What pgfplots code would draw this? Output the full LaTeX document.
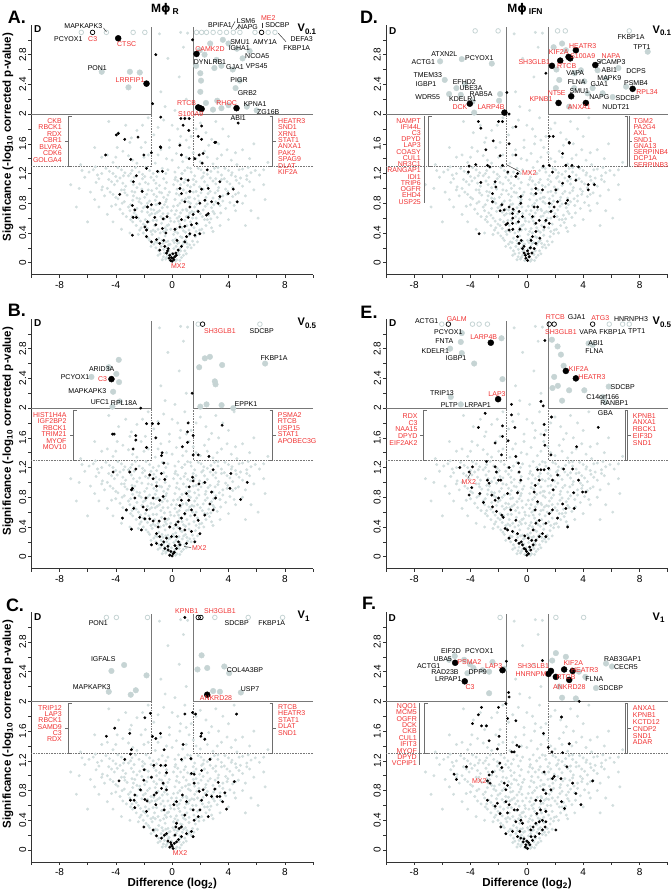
\documentclass[border=0pt]{standalone}
\usepackage{pgfplots}
\usepackage{pgfplotstable}
\pgfplotsset{compat=1.18}
\usepackage{fontspec}
\setmainfont{Liberation Sans}
\newfontfamily\dejavu{DejaVu Sans}
\definecolor{labred}{RGB}{240,50,50}
\definecolor{cloudc}{RGB}{210,222,222}
\definecolor{bigc}{RGB}{198,212,212}
\definecolor{thrc}{RGB}{120,120,120}
\definecolor{brc}{RGB}{110,110,110}

\pgfplotsset{
  volcano/.style={
    scale only axis, width=281.7pt, height=249.65pt,
    xmin=-10, xmax=10, ymin=-0.16, ymax=3.2,
    axis lines=left, axis line style={-, draw=black!80, line width=0.6pt},
    xtick={-8,-4,0,4,8}, minor xtick={-10,-6,-2,2,6,10},
    ytick={0,0.4,0.8,1.2,1.6,2,2.4,2.8}, minor ytick={0.2,0.6,1,1.4,1.8,2.2,2.6,3},
    tick align=outside, major tick length=3pt, minor tick length=3pt,
    every tick/.style={black!80, line width=0.6pt},
    yticklabel style={rotate=90, anchor=south, inner ysep=2pt, font=\fontsize{10}{12}\selectfont},
    xticklabel style={font=\fontsize{10}{12}\selectfont},
    /pgf/number format/assume math mode=true,
    clip=false,
  },
  cl/.style={only marks, mark=*, mark size=1.3pt, color=cloudc},
  bg/.style={only marks, mark=*, mark size=2.8pt, color=bigc},
  go/.style={only marks, mark=o, mark size=2.3pt, color=bigc, mark options={line width=0.8pt}},
  bs/.style={only marks, mark=*, mark size=1.25pt, color=black},
  bl/.style={only marks, mark=*, mark size=3pt, color=black},
  bo/.style={only marks, mark=o, mark size=2.3pt, color=black, mark options={line width=0.7pt}},
}

\newcommand\thr{%
 \draw[thrc, line width=0.7pt] (axis cs:-10,2) -- (axis cs:-1.45,2) -- (axis cs:-1.45,3.17);
 \draw[thrc, line width=0.7pt] (axis cs:10,2) -- (axis cs:1.5,2) -- (axis cs:1.5,3.17);
 \draw[thrc, densely dotted, line width=0.6pt] (axis cs:-10,1.3) -- (axis cs:-1.45,1.3) -- (axis cs:-1.45,2);
 \draw[thrc, densely dotted, line width=0.6pt] (axis cs:10,1.3) -- (axis cs:1.5,1.3) -- (axis cs:1.5,2);
}

\pgfplotstableread[row sep=\\]{
x y\\
-0.62 0.08\\-0.45 0.05\\-0.3 0.1\\-0.15 0.03\\0.02 0.06\\0.18 0.09\\0.33 0.04\\0.5 0.11\\0.66 0.07\\-0.55 0.13\\0.42 0.14\\-0.05 0.12\\
-1.15 0.2\\-0.95 0.16\\-0.78 0.22\\-0.6 0.18\\-0.38 0.2\\-0.22 0.17\\0.12 0.19\\0.28 0.22\\0.55 0.19\\0.72 0.24\\0.9 0.16\\1.1 0.21\\1.25 0.24\\-1.3 0.25\\
-1.85 0.36\\-1.6 0.3\\-1.42 0.38\\-1.18 0.28\\-0.95 0.33\\-0.72 0.3\\-0.5 0.36\\-0.3 0.29\\0.25 0.32\\0.48 0.27\\0.7 0.34\\0.95 0.3\\1.2 0.37\\1.45 0.29\\1.65 0.35\\1.9 0.39\\-2.05 0.4\\0.1 0.38\\
-2.55 0.5\\-2.3 0.44\\-2.05 0.52\\-1.75 0.46\\-1.5 0.42\\-1.25 0.5\\-1.0 0.45\\-0.75 0.53\\-0.5 0.47\\-0.25 0.51\\0.3 0.46\\0.55 0.52\\0.8 0.43\\1.05 0.5\\1.3 0.55\\1.55 0.47\\1.8 0.52\\2.1 0.45\\2.4 0.5\\2.65 0.54\\
-3.25 0.62\\-2.95 0.58\\-2.7 0.67\\-2.4 0.6\\-2.15 0.69\\-1.9 0.58\\-1.6 0.64\\-1.35 0.57\\-1.05 0.68\\-0.8 0.62\\-0.55 0.59\\-0.3 0.66\\0.35 0.6\\0.6 0.67\\0.9 0.57\\1.15 0.63\\1.4 0.69\\1.7 0.6\\2.0 0.66\\2.3 0.58\\2.6 0.64\\2.9 0.69\\3.2 0.61\\
-4.0 0.78\\-3.7 0.72\\-3.4 0.82\\-3.1 0.75\\-2.8 0.84\\-2.5 0.73\\-2.2 0.8\\-1.9 0.76\\-1.6 0.83\\-1.3 0.71\\-1.0 0.79\\-0.7 0.74\\-0.45 0.82\\0.4 0.77\\0.7 0.84\\1.0 0.72\\1.3 0.8\\1.6 0.75\\1.9 0.83\\2.2 0.71\\2.5 0.79\\2.8 0.74\\3.1 0.82\\3.4 0.77\\3.8 0.73\\4.1 0.81\\
-4.8 0.9\\-4.4 0.95\\-4.0 0.88\\-3.6 0.98\\-3.2 0.91\\-2.85 0.96\\-2.5 0.87\\-2.15 0.99\\-1.8 0.92\\-1.45 0.97\\-1.1 0.89\\-0.75 0.94\\-0.5 1.0\\0.5 0.91\\0.8 0.98\\1.15 0.88\\1.5 0.95\\1.85 0.9\\2.2 0.99\\2.55 0.93\\2.9 0.87\\3.25 0.97\\3.6 0.9\\3.95 0.96\\4.3 0.89\\4.7 0.94\\
-5.4 1.08\\-4.95 1.02\\-4.5 1.12\\-4.1 1.05\\-3.7 1.14\\-3.3 1.03\\-2.9 1.1\\-2.5 1.01\\-2.1 1.13\\-1.7 1.06\\-1.3 1.11\\-0.9 1.04\\-0.6 1.13\\0.6 1.05\\0.95 1.12\\1.3 1.02\\1.7 1.09\\2.1 1.14\\2.5 1.04\\2.9 1.1\\3.3 1.01\\3.7 1.13\\4.1 1.06\\4.55 1.11\\5.0 1.03\\5.5 1.09\\
-5.9 1.22\\-5.3 1.18\\-4.7 1.27\\-4.2 1.2\\-3.6 1.25\\-3.1 1.17\\-2.6 1.28\\-2.1 1.19\\-1.6 1.24\\-1.1 1.16\\-0.7 1.27\\0.7 1.2\\1.1 1.28\\1.6 1.17\\2.05 1.25\\2.5 1.19\\3.0 1.27\\3.5 1.18\\4.0 1.24\\4.5 1.16\\5.0 1.26\\5.6 1.21\\6.2 1.18\\
-5.0 1.42\\-4.2 1.35\\-3.5 1.5\\-2.8 1.38\\-2.2 1.55\\-1.7 1.45\\-1.2 1.34\\-0.8 1.52\\-0.4 1.4\\0.3 1.47\\0.75 1.36\\1.2 1.55\\1.7 1.4\\2.3 1.5\\2.9 1.33\\3.5 1.45\\4.2 1.38\\5.0 1.52\\-6.5 1.32\\6.8 1.35\\
-3.8 1.75\\-2.9 1.68\\-2.1 1.85\\-1.3 1.72\\-0.6 1.92\\-0.2 1.65\\0.4 1.8\\0.9 1.95\\1.35 1.7\\2.0 1.88\\2.8 1.66\\3.6 1.8\\-4.5 1.9\\4.4 1.95\\
-0.15 0.25\\0.05 0.3\\-0.1 0.45\\0.15 0.55\\-0.05 0.7\\0.2 0.85\\-0.2 0.95\\0.1 1.05\\-0.35 0.5\\0.4 0.4\\-0.4 0.85\\0.3 0.7\\
-1.2 0.42\\1.0 0.62\\-1.5 0.72\\1.25 0.88\\-0.9 0.95\\0.7 1.2\\-0.3 1.25\\0.25 1.15\\
-0.8 2.3\\0.5 2.5\\-0.3 2.75\\1.0 2.2\\0.8 2.9\\-0.9 3.08\\0.6 3.1\\1.1 3.09\\-0.5 2.1\\0.2 2.05\\
-7.2 1.05\\6.1 0.6\\-6.8 0.75\\6.6 0.85\\-6.0 0.55\\5.6 0.7\\-5.5 0.85\\5.2 0.5\\
-0.85 0.12\\0.8 0.1\\-0.4 0.07\\0.25 0.02\\
-1.05 0.27\\-0.65 0.26\\-0.25 0.24\\0.38 0.26\\0.82 0.28\\1.35 0.2\\
-2.2 0.47\\-1.65 0.55\\-1.1 0.57\\-0.6 0.42\\-0.15 0.6\\0.45 0.56\\0.95 0.41\\1.45 0.6\\1.95 0.44\\2.5 0.58\\
-3.0 0.7\\-2.55 0.64\\-2.05 0.74\\-1.45 0.66\\-0.9 0.7\\-0.35 0.75\\0.2 0.65\\0.75 0.71\\1.25 0.67\\1.8 0.7\\2.35 0.76\\3.0 0.66\\
-3.85 0.86\\-3.35 0.94\\-2.75 0.9\\-2.3 0.86\\-1.7 0.98\\-1.2 0.84\\-0.6 0.88\\0.3 0.93\\0.95 0.86\\1.6 0.86\\2.05 0.94\\2.7 0.96\\3.35 0.86\\3.9 0.92\\
-4.6 1.0\\-3.9 1.1\\-3.45 1.17\\-2.7 1.15\\-2.3 1.06\\-1.5 1.15\\-1.1 1.0\\-0.4 1.08\\0.4 1.1\\1.1 1.04\\1.5 1.12\\1.95 1.02\\2.7 1.14\\3.1 1.06\\3.5 1.12\\4.3 1.01\\4.85 1.14\\
-5.6 1.25\\-5.0 1.2\\-4.45 1.23\\-3.85 1.28\\-3.35 1.21\\-2.85 1.24\\-2.35 1.22\\-1.85 1.28\\-1.35 1.2\\-0.45 1.2\\0.45 1.28\\0.9 1.24\\1.35 1.22\\1.85 1.27\\2.25 1.21\\2.75 1.23\\3.25 1.22\\3.75 1.27\\4.25 1.21\\4.75 1.25\\5.3 1.17\\5.9 1.24\\
-6.2 1.15\\-6.6 1.0\\6.5 1.05\\-5.8 0.95\\5.8 0.98\\-5.2 0.75\\5.0 0.8\\-4.6 0.65\\4.5 0.7\\-4.2 0.55\\4.0 0.58\\-3.6 0.45\\3.4 0.5\\-3.0 0.4\\2.9 0.42\\
-4.6 1.45\\-3.9 1.55\\-3.1 1.44\\-2.5 1.34\\-1.9 1.62\\-1.0 1.45\\-0.2 1.55\\0.55 1.6\\1.0 1.42\\1.5 1.48\\2.0 1.36\\2.6 1.58\\3.2 1.4\\3.9 1.52\\4.6 1.32\\5.5 1.4\\
-3.3 1.85\\-2.5 1.78\\-1.7 1.95\\-1.0 1.82\\0.0 1.85\\0.6 1.7\\1.7 1.8\\2.4 1.75\\3.1 1.9\\4.0 1.7\\
-0.7 0.04\\0.55 0.03\\-0.28 0.15\\0.6 0.16\\-1.0 0.1\\1.0 0.12\\
-1.5 0.22\\-0.45 0.28\\0.15 0.27\\0.6 0.35\\1.05 0.26\\1.55 0.24\\-1.7 0.33\\1.8 0.28\\
-2.4 0.38\\-1.9 0.5\\-1.35 0.44\\-0.85 0.4\\-0.4 0.44\\0.2 0.42\\0.7 0.47\\1.2 0.44\\1.7 0.42\\2.25 0.4\\2.8 0.47\\-2.8 0.55\\
-3.5 0.66\\-2.85 0.62\\-2.25 0.56\\-1.75 0.68\\-1.2 0.66\\-0.65 0.66\\-0.1 0.56\\0.5 0.62\\1.05 0.7\\1.55 0.68\\2.15 0.62\\2.75 0.59\\3.45 0.67\\
-4.3 0.76\\-3.55 0.8\\-2.95 0.78\\-2.35 0.82\\-1.75 0.8\\-1.15 0.78\\-0.55 0.78\\0.1 0.76\\0.55 0.8\\1.15 0.82\\1.75 0.79\\2.35 0.84\\2.95 0.78\\3.6 0.83\\4.4 0.77\\
-5.0 0.98\\-4.2 0.92\\-3.4 0.98\\-2.65 0.95\\-1.95 0.88\\-1.3 0.92\\-0.3 0.91\\0.35 0.99\\1.0 0.94\\1.7 0.96\\2.4 0.88\\3.05 0.94\\3.8 0.99\\4.5 0.92\\5.2 0.9\\
-5.2 1.13\\-4.3 1.09\\-3.5 1.07\\-2.75 1.05\\-1.9 1.08\\-1.15 1.07\\0.2 1.12\\0.85 1.08\\1.55 1.05\\2.3 1.09\\3.1 1.13\\3.9 1.09\\4.75 1.07\\5.3 1.12\\
-6.4 1.24\\-5.45 1.29\\-4.0 1.16\\-2.95 1.2\\-1.95 1.16\\-0.95 1.22\\0.2 1.22\\1.3 1.27\\2.2 1.16\\3.25 1.28\\4.2 1.18\\5.4 1.28\\6.5 1.25\\
-4.0 1.42\\-2.0 1.42\\0.0 1.38\\2.5 1.42\\4.5 1.48\\-5.5 1.55\\5.8 1.6\\-3.0 1.62\\1.0 1.65\\3.3 1.6\\
}\cloud

\begin{document}
\begin{tikzpicture}
\useasboundingbox (0,0) rectangle (672pt,892pt);

%%%%%%%%%%%%%%%% A
\begin{axis}[volcano, at={(31.3pt,617.4pt)}, anchor=south west]
\thr
\addplot[cl] table {\cloud};
\addplot[go] coordinates {(-6.45,3.1)(-4.67,3.1)(-2.77,3.1)(-1.94,3.1)(1.73,3.1)(2.09,3.1)(2.44,3.1)(2.91,3.1)(3.39,3.1)(3.86,3.1)(4.34,3.1)(4.81,3.1)(5.88,3.1)(6.82,3.1)(7.3,3.1)};
\addplot[bg] coordinates {(-5.0,2.57)(-3.0,2.57)(-2.3,2.56)(-3.1,2.36)(1.97,2.86)(2.3,2.8)(3.15,2.73)(4.0,2.95)(4.6,2.88)(5.0,2.75)(5.5,2.85)(2.0,2.55)(2.05,2.45)(3.0,2.62)(3.5,2.65)(4.3,2.6)(4.5,2.35)(2.0,2.3)(2.4,2.15)(3.2,2.18)(4.0,2.12)(5.3,2.1)(6.0,2.05)(2.9,2.06)(3.5,2.08)(1.7,2.65)(4.8,2.45)(2.7,2.95)(3.6,3.0)};
\addplot[bs] coordinates {(-4.72,1.45)(-2.94,1.39)(-2.01,1.45)(-1.47,1.48)(-0.81,1.55)(-1.82,1.27)(-2.54,1.17)(-2.75,1.09)(-1.04,1.23)(-0.69,1.23)(-3.72,0.92)(-2.13,0.96)(-2.82,0.77)(-2.65,0.71)(-2.77,0.61)(-2.54,0.61)(-1.75,0.75)(-1.47,0.78)(-0.88,0.80)(-1.75,0.55)(-1.94,0.48)(-1.82,0.44)(-1.23,0.61)(-0.64,0.59)(-1.16,0.51)(-0.36,0.62)(-0.69,0.46)(-2.82,0.37)(-1.82,0.35)(-1.47,0.28)(-1.11,0.31)(-0.88,0.26)(-0.52,0.22)(-0.28,0.19)(-0.88,0.17)(-0.40,0.13)(-0.17,0.10)(-0.05,0.07)(0.07,0.06)(0.19,0.08)(0.26,0.13)(0.43,0.17)(0.66,0.22)(0.90,0.28)(1.02,0.35)(1.26,0.39)(1.61,0.37)(1.97,0.39)(1.73,0.53)(1.37,0.51)(0.90,0.49)(0.55,0.48)(0.66,0.58)(1.14,0.61)(1.49,0.65)(1.85,0.69)(2.44,0.64)(2.56,0.66)(1.97,0.80)(2.32,0.84)(2.80,0.82)(3.27,0.80)(3.39,0.89)(3.98,0.93)(4.62,0.82)(4.34,0.99)(2.56,1.00)(2.09,0.99)(1.26,0.96)(0.66,0.93)(1.26,0.75)(0.90,0.82)(0.55,1.00)(0.64,1.13)(1.14,1.11)(3.39,1.09)(2.49,1.25)(2.13,1.34)(1.92,1.45)(2.20,1.47)(1.61,1.40)(1.21,1.40)(0.66,1.45)(0.55,1.58)(3.03,1.62)(-0.81,1.96)(-3.96,1.72)(-3.82,1.74)(-3.37,1.66)(-2.42,1.69)(-0.83,1.56)(0.62,1.94)(0.90,1.94)(1.21,1.94)(0.78,1.85)(1.18,1.78)(2.09,1.84)(1.85,1.70)(2.09,1.66)(3.10,1.62)(-1.39,2.14)(-1.16,2.80)(1.45,3.00)(4.69,1.88)(-0.1,0.03)(0.0,0.02)(0.12,0.04)(-0.22,0.06)(0.3,0.1)(-0.33,0.16)(0.05,0.12)(-0.6,0.3)(0.35,0.3)(-0.45,0.4)(0.2,0.45)};
\addplot[bl] coordinates {(-3.83,3.02)(1.73,2.81)(-1.82,2.41)(1.85,2.09)(1.97,2.08)(2.09,2.07)(4.57,2.08)};
\addplot[bo] coordinates {(-5.65,3.1)(6.35,3.1)};
\end{axis}

%%%%%%%%%%%%%%%% B
\begin{axis}[volcano, at={(31.3pt,323.4pt)}, anchor=south west]
\thr
\addplot[cl] table {\cloud};
\addplot[go] coordinates {(1.85,3.13)(6.23,3.13)};
\addplot[bg] coordinates {(-3.79,2.65)(-3.96,2.46)(-3.77,2.35)(-4.19,2.22)(-4.24,2.02)(-5.73,2.42)(-3.72,2.09)(-4.5,2.55)(2.32,2.67)(2.68,2.69)(1.92,2.55)(3.55,2.58)(3.03,2.36)(3.08,2.32)(2.44,2.05)(3.51,2.04)(4.34,2.0)(6.6,2.6)(2.0,2.02)};
\addplot[bs] coordinates {(-4.24,1.65)(-2.58,1.57)(-1.82,1.47)(-2.77,1.45)(-0.71,1.40)(-0.76,1.36)(-0.59,1.26)(-4.19,1.14)(-3.01,1.14)(-2.58,1.18)(-1.59,1.10)(-0.76,1.12)(-1.35,1.05)(-0.52,1.04)(-1.11,0.95)(0.73,1.48)(1.09,1.54)(1.49,1.37)(1.85,1.37)(2.61,1.35)(2.91,1.17)(1.45,1.07)(1.49,1.02)(1.9,0.98)(2.32,1.0)(4.17,1.12)(5.33,1.0)(4.1,0.92)(4.86,0.77)(2.8,0.87)(3.08,0.79)(2.68,0.71)(2.91,0.63)(2.32,0.56)(1.85,0.49)(1.61,0.56)(1.37,0.63)(1.18,0.76)(1.02,0.85)(1.21,0.94)(0.66,0.76)(0.55,0.69)(0.9,0.58)(0.66,0.52)(0.43,0.47)(0.26,0.43)(0.55,0.38)(0.9,0.36)(1.37,0.34)(1.97,0.31)(1.61,0.2)(1.02,0.18)(0.55,0.16)(0.31,0.11)(0.07,0.04)(-0.17,0.02)(-0.09,0.07)(-0.28,0.09)(-0.52,0.11)(-0.76,0.16)(-1.11,0.18)(-1.47,0.16)(-2.18,0.36)(-2.89,0.37)(-2.3,0.53)(-1.94,0.51)(-1.59,0.51)(-1.35,0.48)(-0.92,0.48)(-0.52,0.51)(-1.82,0.63)(-2.06,0.67)(-2.73,0.65)(-3.25,0.63)(-3.53,0.52)(-2.65,0.79)(-1.87,0.79)(-1.35,0.79)(-0.88,0.76)(-0.64,0.81)(-2.82,0.92)(-2.89,0.9)(-0.4,0.25)(-0.05,0.27)(0.31,0.27)(-1.11,0.31)(-0.88,0.27)(-0.17,0.4)(-1.0,0.4)(-2.23,2.0)(1.42,2.2)(-1.82,1.79)(-1.40,1.79)(-0.97,1.79)(-4.12,1.65)(-2.58,1.63)(-1.16,1.60)(1.14,1.80)(1.09,1.68)(1.49,1.63)(3.55,1.77)(0.0,0.01)(0.15,0.06)(-0.3,0.14)(0.45,0.2)(-0.6,0.2)(0.2,0.15)};
\addplot[bl] coordinates {(-4.31,2.39)};
\addplot[bo] coordinates {(2.16,3.13)};
\end{axis}

%%%%%%%%%%%%%%%% C
\begin{axis}[volcano, at={(31.3pt,30.1pt)}, anchor=south west]
\thr
\addplot[cl] table {\cloud};
\addplot[go] coordinates {(-4.67,3.13)(-3.96,3.13)(-1.75,3.13)(3.03,3.13)(5.4,3.13)(7.84,3.13)};
\addplot[bg] coordinates {(-3.41,2.49)(-4.31,2.41)(-1.82,2.35)(-2.58,2.15)(-2.94,2.09)(-4.5,2.13)(2.09,2.62)(1.8,2.43)(2.49,2.45)(3.7,2.47)(4.05,2.38)(2.91,2.14)(3.39,2.13)(4.88,2.12)};
\addplot[bs] coordinates {(0.9,3.13)(0.9,1.83)(1.45,1.85)(1.66,1.83)(-1.54,1.84)(-1.94,1.78)(-4.08,1.64)(-3.01,1.57)(-4.67,1.53)(-1.4,1.53)(4.57,1.83)(2.09,1.57)(2.32,1.49)(-1.16,1.5)(-0.83,1.57)(-2.89,1.35)(-2.96,1.29)(-3.36,1.22)(-0.57,1.35)(0.78,1.42)(0.66,1.22)(1.33,1.23)(2.04,1.53)(2.68,1.22)(-1.3,1.14)(-0.81,1.14)(-0.47,1.14)(-1.99,1.08)(-0.4,1.04)(-1.47,0.98)(-0.64,0.9)(1.37,1.03)(1.56,1.02)(2.09,1.07)(3.27,0.91)(1.56,0.9)(-3.77,0.93)(-2.01,0.94)(-2.25,0.81)(-2.65,0.74)(-2.96,0.67)(-2.7,0.67)(-2.65,0.57)(-1.94,0.68)(-1.78,0.66)(-1.28,0.74)(-1.11,0.77)(-0.76,0.83)(-0.4,0.81)(-1.82,0.52)(-1.16,0.61)(-0.57,0.54)(-2.01,0.31)(-1.35,0.27)(-1.11,0.19)(-0.76,0.16)(-0.4,0.22)(-0.05,0.07)(-0.17,0.04)(0.07,0.02)(0.31,0.11)(0.66,0.18)(1.02,0.22)(1.37,0.25)(0.26,0.31)(0.66,0.31)(1.56,0.4)(1.85,0.45)(1.49,0.54)(1.97,0.54)(2.09,0.67)(2.2,0.81)(1.92,0.79)(2.44,0.74)(2.8,0.72)(3.03,0.82)(3.2,0.72)(3.39,0.72)(3.58,0.65)(3.74,0.77)(3.86,0.55)(4.41,0.92)(2.56,0.45)(0.9,0.47)(0.73,0.74)(1.02,0.65)(0.31,0.65)(0.12,0.61)(0.31,0.36)(0.5,0.29)(1.49,0.18)(0.0,0.05)(-0.1,0.1)(0.15,0.09)(-0.3,0.12)(0.45,0.14)(-0.55,0.2)(0.2,0.2)};
\addplot[bl] coordinates {(2.49,2.09)};
\addplot[bo] coordinates {(1.85,3.13)(2.04,3.13)};
\end{axis}

%%%%%%%%%%%%%%%% D
\begin{axis}[volcano, at={(386pt,617.4pt)}, anchor=south west]
\thr
\addplot[cl] table {\cloud};
\addplot[go] coordinates {(-3.67,3.12)(-2.04,3.12)(2.18,3.12)(2.73,3.12)(7.27,3.12)};
\addplot[bg] coordinates {(-6.16,2.71)(-4.62,2.74)(-2.49,2.68)(-5.83,2.46)(-5.0,2.35)(-5.52,2.27)(-4.69,2.26)(-3.86,2.17)(-1.97,2.18)(-3.74,2.02)(-1.9,2.27)(-4.4,2.4)(2.77,2.86)(3.84,2.59)(5.02,2.59)(4.08,2.44)(5.62,2.48)(2.3,2.46)(4.67,2.35)(4.31,2.28)(5.38,2.28)(6.09,2.23)(7.04,2.37)(8.58,2.84)(2.06,2.35)(3.36,2.35)(3.0,2.1)(2.1,2.6)(3.4,2.55)(1.9,2.9)(2.5,2.95)(6.5,2.62)};
\addplot[bs] coordinates {(-4.1,1.3)(-4.15,1.22)(-3.63,1.32)(-3.27,1.08)(-2.8,1.31)(-2.63,1.29)(-2.91,1.52)(-1.9,1.44)(-1.73,1.31)(-1.26,1.6)(-1.35,1.22)(-0.78,1.45)(-0.66,1.2)(-0.78,1.16)(-2.25,1.09)(-2.2,1.02)(-2.44,0.93)(-2.44,0.82)(-1.78,0.78)(-1.9,0.7)(-1.61,0.71)(-1.26,0.75)(-1.37,0.53)(-1.49,0.51)(-1.26,0.44)(-1.02,0.53)(-0.55,0.69)(-0.43,0.8)(-0.43,0.89)(-0.31,0.62)(-0.66,0.35)(-0.55,0.26)(-0.31,0.19)(-0.19,0.13)(-0.07,0.06)(0.05,0.03)(0.17,0.08)(0.36,0.13)(0.52,0.19)(0.64,0.26)(0.92,0.33)(0.4,0.35)(0.64,0.42)(0.64,0.53)(0.88,0.57)(1.23,0.48)(1.35,0.57)(1.59,0.53)(0.76,0.75)(0.64,0.93)(1.11,0.98)(0.64,1.0)(1.59,0.8)(1.94,0.75)(2.18,0.82)(2.77,0.8)(2.89,0.84)(2.06,0.98)(2.54,1.07)(3.01,1.16)(3.48,1.11)(3.67,1.29)(3.2,1.31)(2.77,1.31)(2.54,1.47)(3.01,1.61)(1.59,1.31)(1.82,1.22)(1.16,1.3)(4.36,1.05)(4.79,1.05)(4.36,0.98)(-3.39,0.39)(1.94,0.62)(1.71,0.69)(0.52,0.75)(0.4,0.62)(-3.44,1.9)(-3.27,1.81)(-2.39,1.64)(-2.01,1.9)(-1.73,1.9)(-0.78,1.83)(1.59,1.7)(1.87,1.7)(3.01,1.62)(-1.42,2.29)(-1.26,2.0)(1.35,2.55)(-0.1,0.1)(0.1,0.12)(-0.2,0.22)(0.25,0.2)(-0.4,0.3)(0.05,0.16)(0.3,0.3)(-0.5,0.45)(-0.6,0.55)(-1.0,0.6)(-1.02,0.66)(-0.98,0.72)(-1.0,0.45)};
\addplot[bl] coordinates {(-4.05,2.14)(-1.59,2.02)(3.48,2.86)(2.96,2.77)(3.08,2.75)(2.37,2.72)(1.78,2.65)(4.86,2.66)(2.25,2.15)(3.15,2.24)(4.19,2.15)(7.51,2.34)};
\end{axis}

%%%%%%%%%%%%%%%% E
\begin{axis}[volcano, at={(386pt,323.4pt)}, anchor=south west]
\thr
\addplot[cl] table {\cloud};
\addplot[go] coordinates {(-6.04,3.13)(-3.86,3.13)(-3.39,3.13)(-2.8,3.13)(5.85,3.13)(6.8,3.13)(7.27,3.13)};
\addplot[bg] coordinates {(-4.62,3.01)(-4.69,2.89)(-5.45,2.8)(-4.62,2.74)(-3.74,2.6)(-1.73,2.39)(-5.4,2.15)(-4.69,2.05)(-1.8,2.94)(1.78,2.92)(2.18,2.83)(2.42,2.72)(2.61,2.57)(1.94,2.42)(1.82,2.27)(4.67,2.85)(4.38,2.87)(5.81,2.29)(5.38,2.15)(5.57,2.08)(3.0,2.24)(4.08,2.24)(2.2,2.3)(2.5,2.1)};
\addplot[bs] coordinates {(1.28,2.91)(-1.09,2.05)(-1.09,1.91)(1.0,2.09)(1.16,2.03)(1.75,1.88)(-2.96,1.93)(-3.44,1.74)(-1.73,1.76)(-0.85,1.74)(1.23,1.78)(5.07,1.74)(-1.73,1.62)(-2.25,1.53)(-1.33,1.56)(-1.8,1.37)(-0.78,1.35)(-0.59,1.26)(1.23,1.64)(1.28,1.5)(1.71,1.37)(3.53,1.48)(-4.76,1.2)(-3.86,1.21)(-4.1,1.14)(-2.87,1.28)(-2.25,1.21)(-2.16,1.14)(-1.26,1.2)(-0.55,1.14)(-0.43,1.03)(-2.8,1.03)(-2.68,0.99)(-2.01,1.03)(-1.85,1.03)(-3.91,0.93)(-4.1,0.83)(-3.34,0.85)(-3.08,0.73)(-2.49,0.83)(-2.25,0.76)(-2.01,0.79)(-1.37,0.85)(-0.66,0.86)(-2.44,0.67)(-2.16,0.61)(-1.78,0.56)(-1.68,0.53)(-1.14,0.63)(-0.78,0.49)(-1.54,0.38)(-1.37,0.36)(-1.02,0.34)(-0.66,0.31)(-1.26,0.25)(-0.78,0.22)(-0.55,0.18)(-0.31,0.16)(-0.19,0.11)(-0.02,0.07)(0.12,0.04)(0.28,0.09)(0.45,0.16)(0.64,0.22)(0.88,0.27)(1.11,0.31)(1.35,0.27)(0.45,0.36)(0.64,0.45)(0.88,0.49)(0.59,0.63)(0.76,0.74)(0.52,0.87)(0.59,0.96)(0.88,1.03)(0.76,1.17)(1.0,1.17)(1.23,1.17)(1.54,1.19)(1.82,1.03)(1.87,0.9)(2.18,1.1)(2.61,1.18)(3.25,1.18)(3.67,1.03)(3.32,0.86)(3.96,0.87)(4.19,0.87)(2.54,0.71)(2.77,0.65)(3.36,0.65)(1.82,0.63)(1.59,0.58)(2.18,0.52)(2.89,0.4)(1.35,0.45)(0.0,0.02)(-0.1,0.1)(0.2,0.13)(-0.4,0.2)(0.35,0.22)(-0.15,0.28)(0.1,0.25)};
\addplot[bl] coordinates {(-2.56,2.88)(2.77,2.5)(3.48,2.4)(-2.04,2.12)};
\addplot[bo] coordinates {(-5.57,3.13)(1.59,3.13)(1.94,3.13)(4.67,3.13)};
\end{axis}

%%%%%%%%%%%%%%%% F
\begin{axis}[volcano, at={(386pt,30.1pt)}, anchor=south west]
\thr
\addplot[cl] table {\cloud};
\addplot[go] coordinates {(-1.9,3.13)(2.06,3.13)(4.03,3.13)};
\addplot[bg] coordinates {(-5.52,2.56)(-5.12,2.61)(-4.45,2.56)(-4.03,2.5)(-3.79,2.45)(-3.15,2.42)(-2.68,2.4)(-4.22,2.38)(-2.44,2.53)(-1.61,2.44)(-2.68,2.11)(2.06,2.65)(2.77,2.6)(4.15,2.33)(4.91,2.18)(3.48,2.04)(5.62,2.51)(6.04,2.47)(1.8,2.55)(2.3,2.2)(3.7,2.4)(2.5,2.05)};
\addplot[bs] coordinates {(1.11,2.55)(-1.45,2.54)(-1.3,2.12)(-1.26,2.06)(-1.49,1.97)(3.72,2.0)(-3.22,1.92)(-2.01,1.92)(-3.44,1.82)(-1.37,1.77)(-3.86,1.7)(-3.22,1.67)(-2.87,1.67)(-1.97,1.53)(-0.78,1.74)(1.18,1.57)(2.46,1.79)(-2.68,1.47)(-2.09,1.36)(-0.71,1.41)(-0.55,1.39)(-1.07,1.32)(-0.9,1.32)(1.52,1.38)(1.78,1.32)(3.01,1.43)(2.54,1.31)(-4.29,1.12)(-5.17,1.02)(-5.0,0.95)(-1.92,1.17)(-1.78,1.11)(-2.44,1.05)(-2.68,1.01)(-2.8,0.93)(-2.61,0.9)(-1.61,0.9)(-1.37,0.87)(-1.49,0.81)(-2.8,0.67)(-2.09,0.63)(-2.25,0.59)(-1.49,0.65)(-1.26,0.61)(-1.9,0.49)(-1.37,0.5)(-0.9,0.54)(-0.66,0.54)(-0.43,0.4)(-0.31,0.36)(-0.78,0.38)(-1.85,0.31)(-1.49,0.22)(-1.02,0.25)(-0.66,0.18)(-0.43,0.16)(-0.26,0.11)(-0.07,0.07)(0.05,0.02)(0.21,0.07)(0.4,0.13)(0.59,0.18)(0.88,0.22)(1.11,0.27)(1.3,0.31)(0.28,0.27)(0.45,0.31)(0.64,0.36)(0.88,0.38)(1.11,0.4)(1.35,0.38)(0.71,0.49)(0.97,0.54)(1.35,0.52)(2.06,0.27)(0.64,0.67)(0.97,0.66)(1.16,0.81)(1.35,0.76)(1.23,1.05)(1.82,0.96)(1.94,0.99)(2.42,0.96)(2.46,0.65)(2.68,0.56)(3.25,0.9)(3.48,0.76)(2.84,1.12)(4.67,0.93)(3.84,0.61)(1.71,0.81)(-0.1,0.04)(0.12,0.1)(-0.2,0.15)(0.3,0.18)(-0.5,0.25)(0.0,0.12)};
\addplot[bl] coordinates {(-5.09,2.52)(-1.73,2.42)(-4.41,2.27)(1.71,2.41)(1.54,2.37)(2.06,2.33)(2.65,2.43)(3.25,2.41)(3.01,2.29)};
\end{axis}

%%%%%%%%%%%%%%%% annotations in image coordinates (px from top-left)
\begin{scope}[shift={(0pt,892pt)}, x=1pt, y=-1pt]
\tikzset{
 g/.style={font=\fontsize{7}{7}\selectfont, inner sep=0pt, text=black},
 r/.style={g, text=labred},
 lst/.style={inner sep=0pt, text=labred},
 br/.style={draw=brc, line width=0.7pt},
 ll/.style={draw=black!80, line width=0.5pt},
 axl/.style={font=\bfseries\fontsize{11.5}{12}\selectfont},
 pl/.style={font=\bfseries\fontsize{18}{18}\selectfont},
 dd/.style={font=\bfseries\fontsize{10}{10}\selectfont},
 vv/.style={font=\bfseries\fontsize{11}{11}\selectfont, anchor=west, inner sep=0pt},
}
\newcommand\lbr[4]{\draw[br] ({#1+3.2},#2) -- (#1,#2) -- (#1,#3) -- ({#1+3.2},#3); \draw[br] (#1,#4) -- ({#1-3.2},#4);}
\newcommand\rbr[4]{\draw[br] ({#1-3.2},#2) -- (#1,#2) -- (#1,#3) -- ({#1-3.2},#3); \draw[br] (#1,#4) -- ({#1+3.2},#4);}

% axis titles
\node[axl, rotate=90] at (8,137) {Significance (-log\textsubscript{10} corrected p-value)};
\node[axl, rotate=90] at (8,431) {Significance (-log\textsubscript{10} corrected p-value)};
\node[axl, rotate=90] at (8,724) {Significance (-log\textsubscript{10} corrected p-value)};
\node[axl] at (172.3,884) {Difference (log\textsubscript{2})};
\node[axl] at (527,884) {Difference (log\textsubscript{2})};

% panel letters and titles
\node[pl] at (17,17) {A.};
\node[pl] at (17,310) {B.};
\node[pl] at (15,605) {C.};
\node[pl] at (369,17) {D.};
\node[pl] at (369,312) {E.};
\node[pl] at (369,603) {F.};
\node[font=\bfseries\fontsize{12}{12}\selectfont] at (165,9) {M{\dejavu\bfseries ϕ}\,\raisebox{-2.5pt}{\fontsize{8.5}{8.5}\selectfont R}};
\node[font=\bfseries\fontsize{12}{12}\selectfont] at (525,9) {M{\dejavu\bfseries ϕ}\,\raisebox{-2.5pt}{\fontsize{8.5}{8.5}\selectfont IFN}};

\node[dd] at (37.7,29.3) {D};
\node[dd] at (37.7,322.7) {D};
\node[dd] at (37.7,616.7) {D};
\node[dd] at (392.7,31) {D};
\node[dd] at (392.7,323.3) {D};
\node[dd] at (392.2,618.3) {D};
\node[vv] at (297.5,29.5) {V\raisebox{-2.5pt}{\fontsize{8}{8}\selectfont 0.1}};
\node[vv] at (297.5,323.3) {V\raisebox{-2.5pt}{\fontsize{8}{8}\selectfont 0.5}};
\node[vv] at (297.5,616.3) {V\raisebox{-2.5pt}{\fontsize{8}{8}\selectfont 1}};
\node[vv] at (652.5,31) {V\raisebox{-2.5pt}{\fontsize{8}{8}\selectfont 0.1}};
\node[vv] at (652.5,322.3) {V\raisebox{-2.5pt}{\fontsize{8}{8}\selectfont 0.5}};
\node[vv] at (652.5,617.7) {V\raisebox{-2.5pt}{\fontsize{8}{8}\selectfont 1}};

% ---------- A labels
\node[g] at (83.3,26) {MAPKAPK3};
\draw[ll] (103.5,28) -- (106.5,32);
\node[g] at (68.3,39.3) {PCYOX1};
\node[r] at (92.7,39.3) {C3};
\node[r] at (126.7,44.3) {CTSC};
\node[g] at (97.3,67.7) {PON1};
\node[r] at (130,80) {LRRFIP1};
\node[g] at (220,25) {BPIFA1};
\node[g] at (246,20.7) {LSM6};
\node[g] at (248,27.5) {NAPG};
\draw[ll] (231,29) -- (235,21.5);
\draw[ll] (235.5,30) -- (239.5,25);
\node[r] at (268.3,18.3) {ME2};
\draw[ll] (262.3,22.7) -- (262.3,28.3);
\node[g] at (277.5,25) {SDCBP};
\node[g] at (301.7,39.3) {DEFA3};
\draw[ll] (278.3,33.3) -- (286,41.7);
\node[g] at (296.7,47.7) {FKBP1A};
\node[g] at (240,41.7) {SMU1};
\node[g] at (265,41.7) {AMY1A};
\node[g] at (239.3,48.3) {IGHA1};
\node[r] at (210,49.3) {CAMK2D};
\node[g] at (257.3,56) {NCOA5};
\node[g] at (210,62.3) {DYNLRB1};
\node[g] at (235,66.7) {GJA1};
\node[g] at (256.7,65.7) {VPS45};
\node[g] at (239,80) {PIGR};
\node[g] at (247.3,93.3) {GRB2};
\node[r] at (186.7,103.3) {RTCB};
\node[r] at (226.7,103.3) {RHOC};
\node[g] at (255,104) {KPNA1};
\node[g] at (268.3,111.7) {ZG16B};
\node[r] at (190.7,114) {S100A9};
\node[g] at (238.3,118.3) {ABI1};
\node[r] at (178.3,266) {MX2};
\node[lst, align=right, anchor=east, font=\fontsize{7}{6.5}\selectfont] at (62,140.5) {CKB\\RBCK1\\RDX\\CBR1\\BLVRA\\CDK6\\GOLGA4};
\node[lst, align=left, anchor=west, font=\fontsize{7}{6.4}\selectfont] at (278,146.5) {HEATR3\\SND1\\XRN1\\STAT1\\ANXA1\\PAK2\\SPAG9\\DLAT\\KIF2A};
\lbr{68.3}{116}{166}{141}
\rbr{272.7}{116}{166}{141}

% ---------- B labels
\node[r] at (220,330.7) {SH3GLB1};
\node[g] at (261.7,331) {SDCBP};
\node[g] at (274,358.3) {FKBP1A};
\node[g] at (101.7,369.3) {ARID3A};
\node[g] at (75,376.7) {PCYOX1};
\node[r] at (102.5,379.3) {C3};
\node[g] at (87.3,390.7) {MAPKAPK3};
\node[g] at (100,401.7) {UFC1};
\node[g] at (124,403.3) {RPL18A};
\node[g] at (246,404.3) {EPPK1};
\node[r] at (199.3,547.7) {MX2};
\draw[ll] (191,547.5) -- (184,546.5);
\node[lst, align=right, anchor=east, font=\fontsize{7}{6.5}\selectfont] at (66.7,431.3) {HIST1H4A\\IGF2BP2\\RBCK1\\TRIM21\\MYOF\\MOV10};
\node[lst, align=left, anchor=west, font=\fontsize{7}{6.5}\selectfont] at (277.7,428) {PSMA2\\RTCB\\USP15\\STAT1\\APOBEC3G};
\lbr{73.3}{410}{460}{435}
\rbr{272.7}{410}{460}{435}

% ---------- C labels
\node[r] at (186.7,610.7) {KPNB1};
\node[r] at (220,610.7) {SH3GLB1};
\node[g] at (98.3,623.3) {PON1};
\node[g] at (236.7,623.3) {SDCBP};
\node[g] at (271.7,623.3) {FKBP1A};
\node[g] at (103.3,659) {IGFALS};
\node[g] at (245,670) {COL4A3BP};
\node[g] at (91.7,687.3) {MAPKAPK3};
\node[g] at (250,689.3) {USP7};
\node[r] at (216,698.3) {ANKRD28};
\node[r] at (180,852.7) {MX2};
\node[lst, align=right, anchor=east, font=\fontsize{7}{6.3}\selectfont] at (62,723.5) {TRIP12\\LAP3\\RBCK1\\SAMD9\\C3\\RDX};
\node[lst, align=left, anchor=west, font=\fontsize{7}{6.5}\selectfont] at (278,720) {RTCB\\HEATR3\\STAT1\\DLAT\\SND1};
\lbr{68.3}{703}{753.4}{728}
\rbr{272.7}{703}{753.4}{728}

% ---------- D labels
\node[g] at (631,36.7) {FKBP1A};
\node[g] at (642,47.3) {TPT1};
\node[g] at (444.3,54) {ATXN2L};
\node[g] at (479.3,58.3) {PCYOX1};
\node[g] at (423.3,62.3) {ACTG1};
\node[r] at (582.7,45.7) {HEATR3};
\node[r] at (558.7,51.7) {KIF2A};
\node[r] at (582.7,55.7) {S100A9};
\node[r] at (611,55.7) {NAPA};
\node[r] at (534.3,61.7) {SH3GLB1};
\node[r] at (566.7,66) {RTCB};
\node[g] at (611,61.7) {SCAMP3};
\draw[ll] (597.7,64.3) -- (602,59.5);
\node[g] at (636,71) {DCPS};
\node[g] at (609.3,70) {ABI1};
\node[g] at (427.7,75) {TMEM33};
\node[g] at (575.3,72.7) {VAPA};
\node[g] at (464.3,81.7) {EFHD2};
\node[g] at (609.3,77.7) {MAPK9};
\node[g] at (426,84) {IGBP1};
\node[g] at (576.7,81.7) {FLNA};
\node[g] at (599.3,84) {GJA1};
\node[g] at (636,83.3) {PSMB4};
\node[g] at (471,87.7) {UBE3A};
\node[g] at (481,94) {RAB5A};
\node[g] at (579.3,90.7) {SMU1};
\node[g] at (427.7,96.7) {WDR55};
\node[g] at (462.7,99) {KDELR1};
\node[r] at (556.7,93.3) {NT5E};
\node[g] at (599.3,96.7) {NAPG};
\node[g] at (627.7,98.3) {SDCBP};
\node[r] at (541,99.3) {KPNB1};
\node[r] at (460,107.3) {DCK};
\node[r] at (491,107.3) {LARP4B};
\node[r] at (579.3,107.3) {ANXA1};
\node[g] at (616,107.3) {NUDT21};
\node[r] at (647,92.3) {RPL34};
\node[r] at (529.3,173.3) {MX2};
\draw[ll] (507,165) -- (520,171.7);
\node[lst, align=right, anchor=east, font=\fontsize{7}{6.23}\selectfont] at (421,161.2) {NAMPT\\IFI44L\\C3\\DPYD\\LAP3\\COASY\\CUL1\\NR3C1\\RANGAP1\\IDI1\\TRIP6\\OGFR\\EHD4\\USP25};
\node[lst, align=left, anchor=west, font=\fontsize{7}{6.24}\selectfont] at (633.3,142.8) {TGM2\\PA2G4\\AXL\\SND1\\GNA13\\SERPINB4\\DCP1A\\SERPINB3};
\draw[br] (431.9,116) -- (428.7,116) -- (428.7,166) -- (431.9,166);
\draw[br] (424.3,116) -- (424.3,203);
\draw[br] (624.5,116) -- (627.7,116) -- (627.7,166) -- (624.5,166);
\draw[br] (629.5,116) -- (629.5,166);
\draw[br] (629.5,141) -- (632,141);

% ---------- E labels
\node[g] at (426.7,321) {ACTG1};
\node[r] at (456.7,319) {GALM};
\node[r] at (555.3,316.7) {RTCB};
\node[g] at (576.7,317.3) {GJA1};
\node[r] at (600.3,317.7) {ATG3};
\node[g] at (631,319) {HNRNPH3};
\node[g] at (448.3,332.3) {PCYOX1};
\node[r] at (561,332.3) {SH3GLB1};
\node[g] at (588.3,332.3) {VAPA};
\node[g] at (612.7,332.3) {FKBP1A};
\node[g] at (636.7,330.7) {TPT1};
\node[g] at (444.3,341) {FNTA};
\node[r] at (483.7,337.3) {LARP4B};
\node[g] at (596,342.7) {ABI1};
\node[g] at (435.3,350.7) {KDELR1};
\node[g] at (594.3,350.7) {FLNA};
\node[g] at (456,358.3) {IGBP1};
\node[r] at (578.7,369) {KIF2A};
\node[r] at (592,377.3) {HEATR3};
\node[g] at (622.7,387.3) {SDCBP};
\node[g] at (442,392.7) {TRIP13};
\node[r] at (497,394.3) {LAP3};
\node[g] at (602.7,397.3) {C14orf166};
\node[g] at (449.3,405) {PLTP};
\node[g] at (477.7,405) {LRPAP1};
\node[g] at (614.3,403.3) {RANBP1};
\node[g] at (605.3,412.7) {GBA};
\node[r] at (468.7,481.7) {MX2};
\draw[ll] (467.7,478.3) -- (471,472.7);
\node[lst, align=right, anchor=east, font=\fontsize{7}{6.9}\selectfont] at (417.7,429.5) {RDX\\C3\\NAA15\\DPYD\\EIF2AK2};
\node[lst, align=left, anchor=west, font=\fontsize{7}{6.9}\selectfont] at (632.7,429.5) {KPNB1\\ANXA1\\RBCK1\\EIF3D\\SND1};
\lbr{423.3}{410}{460}{435}
\rbr{627.7}{410}{460}{435}
\draw[br] (625.3,410) -- (625.3,460);

% ---------- F labels
\node[g] at (451,650.7) {EIF2D};
\node[g] at (479.3,650.7) {PCYOX1};
\node[g] at (442.7,659.3) {UBA5};
\node[r] at (469.3,661.7) {PSMA2};
\node[g] at (428.7,666) {ACTG1};
\node[g] at (445,671.7) {RAD23B};
\node[g] at (477.7,671.7) {DPP9};
\node[r] at (493.7,666) {LAP3};
\node[g] at (448.3,679) {LRPAP1};
\node[r] at (470,686.7) {C3};
\node[r] at (533.3,666) {SH3GLB1};
\node[r] at (531,674.3) {HNRNPM};
\node[r] at (573.3,663.3) {KIF2A};
\node[r] at (584.7,670) {HEATR3};
\node[r] at (566,676.7) {RTCB};
\node[g] at (594.3,679) {FLNA};
\node[r] at (569.3,686.7) {ANKRD28};
\node[g] at (611,688.3) {SDCBP};
\node[g] at (622.7,659) {RAB3GAP1};
\node[g] at (626,667.3) {CECR5};
\node[r] at (479.3,780.7) {MX2};
\draw[ll] (486,781) -- (491,783);
\node[lst, align=right, anchor=east, font=\fontsize{7}{6.37}\selectfont] at (417,734.7) {NQO1\\MCM5\\OGFR\\DCK\\CKB\\CUL1\\IFIT3\\MYOF\\DPYD\\VCPIP1};
\node[lst, align=left, anchor=west, font=\fontsize{7}{6.8}\selectfont] at (632.7,725.5) {ANXA1\\KPNB1\\KCTD12\\CNDP2\\SND1\\ADAR};
\draw[br] (427.5,703) -- (424.3,703) -- (424.3,753.4) -- (427.5,753.4);
\draw[br] (419.6,703) -- (419.6,765);
\rbr{627.7}{703}{753.4}{728}
\draw[br] (625.3,703) -- (625.3,753.4);
\end{scope}
\end{tikzpicture}
\end{document}
